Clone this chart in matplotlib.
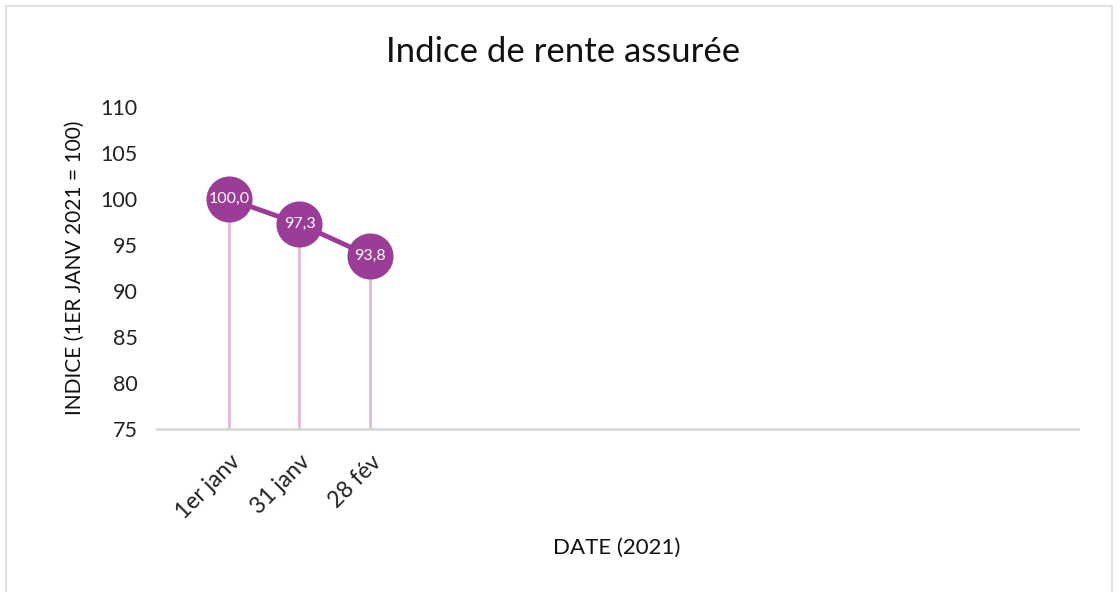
import matplotlib
matplotlib.use("Agg")
import matplotlib.pyplot as plt
from matplotlib.patches import Rectangle

categories = ["1er janv", "31 janv", "28 fév"]
values = [100.0, 97.3, 93.8]
value_labels = ["100,0", "97,3", "93,8"]
yticks = [75, 80, 85, 90, 95, 100, 105, 110]

plt.rcParams['font.family'] = ['Lato', 'DejaVu Sans']

fig = plt.figure(figsize=(11.2, 5.92), dpi=100)
ax = fig.add_axes([157/1120, 1-429/592, (1078-157)/1120, (429-107)/592])

purple = "#9B3C96"
stem = "#DDB8DC"

x = list(range(len(categories)))
ax.vlines(x, 75, values, color=stem, lw=2, zorder=1)
ax.plot(x, values, color=purple, lw=3.5, zorder=2)
ax.scatter(x, values, s=46**2*0.52, color=purple, zorder=3, linewidths=0)
for xi, v, lab in zip(x, values, value_labels):
    ax.text(xi, v, lab, color="white", ha="center", va="center", fontsize=11.5, zorder=4)

ax.set_ylim(75, 110)
ax.set_yticks(yticks)
ax.set_yticklabels([str(t) for t in yticks], fontsize=15.5, color="#222222")
ax.set_xlim(-1.02, 12.04)
ax.set_xticks(x)
ax.set_xticklabels(categories, rotation=45, ha="right", rotation_mode="anchor", fontsize=16.5, color="#222222")
ax.tick_params(axis="both", length=0)
ax.tick_params(axis="y", pad=14)
ax.tick_params(axis="x", pad=16)

for s in ["top", "right", "left"]:
    ax.spines[s].set_visible(False)
ax.spines["bottom"].set_color("#D9D9D9")
ax.spines["bottom"].set_linewidth(2)

ax.set_ylabel("INDICE (1ER JANV 2021 = 100)", fontsize=15, color="#111111")
ax.yaxis.set_label_coords(-(157-85)/921, 0.5)
fig.text(617/1120, 1-548/592, "DATE (2021)", ha="center", va="center", fontsize=16, color="#111111")
fig.text(563/1120, 1-52/592, "Indice de rente assurée", ha="center", va="center", fontsize=25, color="#111111")

fig.patches.append(Rectangle((6/1120, -0.05), (1112-6)/1120, 1.05-6/592, transform=fig.transFigure,
                             fill=False, edgecolor="#D9D9D9", lw=1.2))

fig.savefig("out.png", dpi=100)
